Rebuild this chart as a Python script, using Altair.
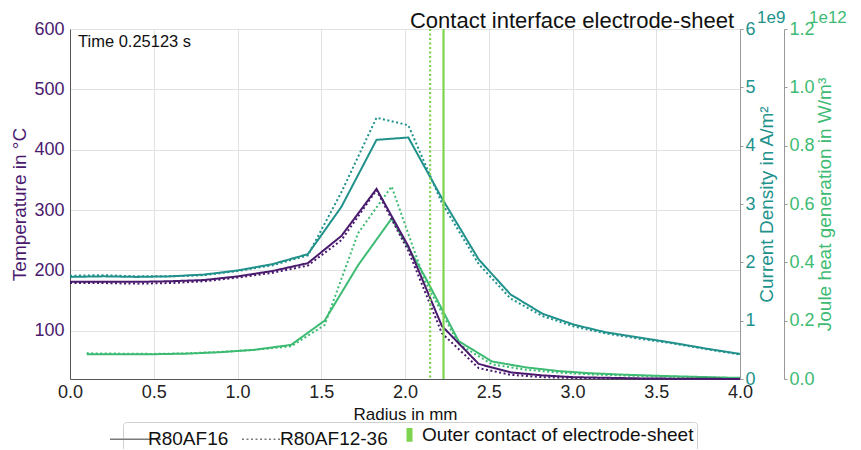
import altair as alt
import pandas as pd

# ---------------- data ----------------
runs = ["R80AF16", "R80AF12-36"]
legend_items = ["R80AF16", "R80AF12-36", "Outer contact of electrode-sheet"]

# radial nodes (mm) for temperature and current density
r_nodes = [0.0, 0.2, 0.4, 0.6, 0.8, 1.0, 1.21, 1.42, 1.62, 1.83, 2.02,
           2.22, 2.44, 2.63, 2.82, 3.01, 3.2, 3.4, 3.6, 3.8, 4.0]

temp_r80af16 = [181, 181, 181, 182, 184, 190, 199, 212, 257, 335, 240,
                108, 45, 31, 26, 23, 22, 21, 20.5, 20.3, 20.1]
temp_r80af1236 = [179, 179, 178, 179, 182, 188, 196, 208, 250, 333, 232,
                  96, 38, 27, 23, 21.5, 21, 20.5, 20.2, 20.1, 20.0]

# current density in 1e9 A/m^2
cd_r80af16 = [1.75, 1.76, 1.75, 1.76, 1.79, 1.86, 1.97, 2.14, 2.95, 4.10, 4.14,
              3.10, 2.05, 1.45, 1.12, 0.93, 0.80, 0.71, 0.62, 0.52, 0.43]
cd_r80af1236 = [1.77, 1.78, 1.76, 1.76, 1.78, 1.85, 1.95, 2.12, 3.20, 4.48, 4.35,
                3.02, 1.97, 1.38, 1.08, 0.90, 0.78, 0.69, 0.61, 0.51, 0.42]

# joule heat generation in 1e12 W/m^3 (element centres)
q_nodes = [0.1, 0.3, 0.5, 0.7, 0.9, 1.1, 1.32, 1.52, 1.72, 1.92, 2.12,
           2.32, 2.52, 2.72, 2.92, 3.1, 3.3, 3.5, 3.7, 3.9, 4.0]
q_r80af16 = [0.085, 0.085, 0.085, 0.087, 0.092, 0.100, 0.117, 0.200, 0.390, 0.550, 0.350,
             0.130, 0.060, 0.040, 0.027, 0.020, 0.015, 0.011, 0.008, 0.005, 0.004]
q_r80af1236 = [0.088, 0.087, 0.086, 0.088, 0.093, 0.100, 0.112, 0.185, 0.500, 0.660, 0.335,
               0.120, 0.050, 0.032, 0.022, 0.016, 0.012, 0.009, 0.006, 0.004, 0.003]

contact_r = [2.23, 2.15]
contact_run = ["R80AF16", "R80AF12-36"]

x_ticks = [0.0, 0.5, 1.0, 1.5, 2.0, 2.5, 3.0, 3.5, 4.0]
temp_ticks = [100, 200, 300, 400, 500, 600]
cd_ticks = [0, 1, 2, 3, 4, 5, 6]
q_ticks = [0.0, 0.2, 0.4, 0.6, 0.8, 1.0, 1.2]

chart_title = "Contact interface electrode-sheet"
time_label = "Time 0.25123 s"


def long_df(r, a, b):
    return pd.DataFrame({
        "r": list(r) + list(r),
        "v": list(a) + list(b),
        "run": [runs[0]] * len(r) + [runs[1]] * len(r),
    })


temp_df = long_df(r_nodes, temp_r80af16, temp_r80af1236)
cd_df = long_df(r_nodes, cd_r80af16, cd_r80af1236)
q_df = long_df(q_nodes, q_r80af16, q_r80af1236)
contact_df = pd.DataFrame({"r": contact_r, "run": contact_run})

# ---------------- style ----------------
PURPLE = "#4a1a6e"
TEAL = "#21918c"
GREEN = "#3dbb72"
LIME = "#7ed34f"
FONT = "Liberation Sans"

OUTER = "Outer contact of electrode-sheet"
is_outer = f"datum.label === '{OUTER}'"

dash_scale = alt.Scale(domain=legend_items, range=[[1, 0], [2, 2.5], [1, 0]])
dash_legend = alt.Legend(
    title=None, orient="none", legendX=53, legendY=393, direction="horizontal",
    symbolType=alt.ExprRef(f"{is_outer} ? 'M0,-0.27L0,0.27' : 'stroke'"),
    symbolSize=2600,
    symbolStrokeWidth=alt.ExprRef(f"{is_outer} ? 6 : 1.6"),
    symbolStrokeColor=alt.ExprRef(f"{is_outer} ? '{LIME}' : '#7a7a7a'"),
    labelFontSize=19, labelFont=FONT, labelLimit=500,
    labelColor="#111", columnPadding=9, labelOffset=3,
    strokeColor="#d0d0d0", cornerRadius=3, padding=3, fillColor="white",
)
dash_enc = alt.StrokeDash("run:N", scale=dash_scale, legend=dash_legend)

x_enc = alt.X(
    "r:Q",
    scale=alt.Scale(domain=[0, 4], nice=False, zero=False),
    axis=alt.Axis(
        values=x_ticks, format=".1f", title="Radius in mm", labelFlush=False,
        labelFontSize=18, titleFontSize=17, labelColor="#222", titleColor="#111",
        labelFont=FONT, titleFont=FONT, titleFontWeight="normal",
        grid=True, gridColor="#e2e2e2", domainColor="#555", tickSize=0,
        labelPadding=4, titlePadding=5,
    ),
)

temp_line = alt.Chart(temp_df).mark_line(color=PURPLE, strokeWidth=2).encode(
    x=x_enc,
    y=alt.Y(
        "v:Q",
        scale=alt.Scale(domain=[20, 600], nice=False, zero=False),
        axis=alt.Axis(
            orient="left", values=temp_ticks, title="Temperature in °C",
            labelFontSize=18, titleFontSize=19, labelColor=PURPLE, titleColor=PURPLE,
            labelFont=FONT, titleFont=FONT, titleFontWeight="normal",
            grid=True, gridColor="#e2e2e2", domainColor="#555", tickSize=0,
            labelPadding=6, titlePadding=4,
        ),
    ),
    strokeDash=dash_enc,
    order="r:Q",
)

cd_line = alt.Chart(cd_df).mark_line(color=TEAL, strokeWidth=2).encode(
    x=x_enc,
    y=alt.Y(
        "v:Q",
        scale=alt.Scale(domain=[0, 6], nice=False),
        axis=alt.Axis(
            orient="right", values=cd_ticks, title="Current Density in A/m²",
            titleAngle=270, titleBaseline="top",
            labelFontSize=18, titleFontSize=19, labelColor=TEAL, titleColor=TEAL,
            labelFont=FONT, titleFont=FONT, titleFontWeight="normal",
            grid=False, domainColor="#999", tickColor="#999", tickSize=3,
            labelPadding=2, titlePadding=2,
        ),
    ),
    strokeDash=dash_enc,
    order="r:Q",
)

q_line = alt.Chart(q_df).mark_line(color=GREEN, strokeWidth=2).encode(
    x=x_enc,
    y=alt.Y(
        "v:Q",
        scale=alt.Scale(domain=[0, 1.2], nice=False),
        axis=alt.Axis(
            orient="right", offset=44, values=q_ticks, format=".1f",
            title="Joule heat generation in W/m³",
            titleAngle=270, titleBaseline="top",
            labelFontSize=18, titleFontSize=19, labelColor=GREEN, titleColor=GREEN,
            labelFont=FONT, titleFont=FONT, titleFontWeight="normal",
            grid=False, domainColor="#999", tickColor="#999", tickSize=3,
            labelPadding=2, titlePadding=1,
        ),
    ),
    strokeDash=dash_enc,
    order="r:Q",
)

contact_rule = alt.Chart(contact_df).mark_rule(color=LIME, strokeWidth=2.2).encode(
    x=x_enc,
    strokeDash=dash_enc,
)

time_text = alt.Chart(pd.DataFrame({"t": [time_label]})).mark_text(
    align="left", baseline="middle", fontSize=16.5, font=FONT, color="#111"
).encode(x=alt.value(8), y=alt.value(13), text="t:N")

title_text = alt.Chart(pd.DataFrame({"t": [chart_title]})).mark_text(
    align="right", baseline="alphabetic", fontSize=22, font=FONT, color="#111"
).encode(x=alt.value(664), y=alt.value(-1), text="t:N")

e9_text = alt.Chart(pd.DataFrame({"t": ["1e9"]})).mark_text(
    align="left", baseline="middle", fontSize=17, font=FONT, color=TEAL
).encode(x=alt.value(687), y=alt.value(-11), text="t:N")

e12_text = alt.Chart(pd.DataFrame({"t": ["1e12"]})).mark_text(
    align="left", baseline="middle", fontSize=17, font=FONT, color=GREEN
).encode(x=alt.value(739), y=alt.value(-11), text="t:N")

chart = alt.layer(
    cd_line, q_line, temp_line, contact_rule, time_text, title_text, e9_text, e12_text
).resolve_scale(
    y="independent", strokeDash="shared"
).properties(
    width=670,
    height=350,
    autosize=alt.AutoSizeParams(type="none"),
    padding={"left": 62, "top": 21, "right": 112, "bottom": 70},
).configure_view(
    stroke="#555", strokeWidth=1
).configure(
    font=FONT
)

chart.save("out.html", embed_options={"renderer": "svg", "actions": False})
